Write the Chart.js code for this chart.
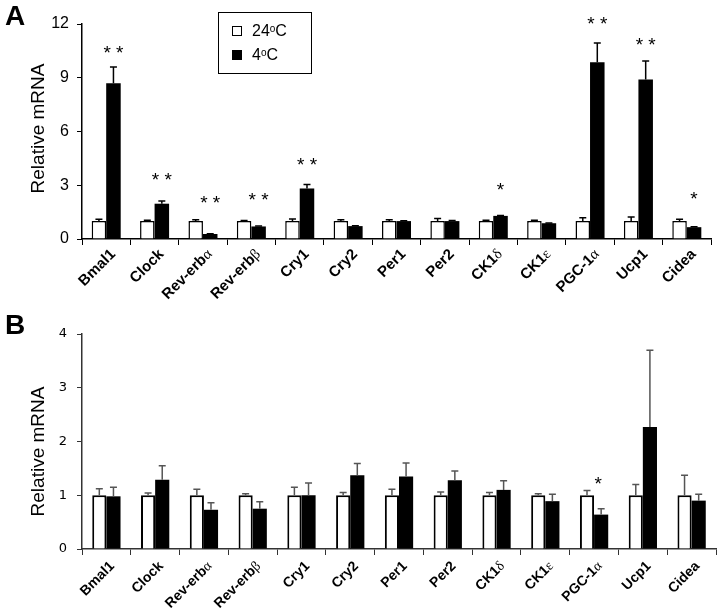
<!DOCTYPE html>
<html>
<head>
<meta charset="utf-8">
<script src="https://cdn.jsdelivr.net/npm/chart.js@4.4.0/dist/chart.umd.min.js"></script>
<style>
  body { margin: 0; background: #fff; width: 721px; height: 614px; position: relative; overflow: hidden; }
  canvas { position: absolute; left: 0; }
  #chartA { top: 0; }
  #chartB { top: 300px; }
</style>
</head>
<body>
<canvas id="chartA" width="721" height="300"></canvas>
<canvas id="chartB" width="721" height="314"></canvas>
<script>
// genes on the x axis (both panels)
const genes = ['Bmal1', 'Clock', 'Rev-erbα', 'Rev-erbβ', 'Cry1', 'Cry2', 'Per1', 'Per2', 'CK1δ', 'CK1ε', 'PGC-1α', 'Ucp1', 'Cidea'];
const seriesNames = ['24°C', '4°C'];
const yTitle = 'Relative mRNA';

// panel A
const warmA = [1, 1, 1, 1, 1, 1, 1, 1, 1, 1, 1, 1, 1];
const coldA = [8.7, 1.97, 0.28, 0.70, 2.82, 0.72, 1.0, 1.0, 1.29, 0.88, 9.87, 8.9, 0.66];
const warmErrA = [0.1, 0.05, 0.08, 0.03, 0.12, 0.08, 0.08, 0.14, 0.05, 0.05, 0.19, 0.23, 0.1];
const coldErrA = [0.9, 0.15, 0.02, 0.02, 0.22, 0.02, 0.02, 0.03, 0.02, 0.02, 1.07, 1.04, 0.03];
const starsA = ['* *', '* *', '* *', '* *', '* *', '', '', '', '*', '', '* *', '* *', '*'];
const starLevelA = [10.36, 3.27, 1.95, 2.12, 4.07, 0, 0, 0, 2.7, 0, 11.93, 10.79, 2.21];
const ticksA = [0, 3, 6, 9, 12];

// panel B
const warmB = [1, 1, 1, 1, 1, 1, 1, 1, 1, 1, 1, 1, 1];
const coldB = [0.98, 1.29, 0.73, 0.75, 1.0, 1.37, 1.35, 1.28, 1.1, 0.89, 0.64, 2.27, 0.9];
const warmErrB = [0.12, 0.04, 0.11, 0.03, 0.15, 0.05, 0.11, 0.06, 0.05, 0.03, 0.09, 0.2, 0.37];
const coldErrB = [0.17, 0.26, 0.13, 0.13, 0.23, 0.22, 0.25, 0.17, 0.17, 0.13, 0.11, 1.43, 0.12];
const starsB = ['', '', '', '', '', '', '', '', '', '', '*', '', ''];
const starLevelB = [0, 0, 0, 0, 0, 0, 0, 0, 0, 0, 1.19, 0, 0];
const ticksB = [0, 1, 2, 3, 4];

const SANS = '"Liberation Sans", Arial, sans-serif';

// error bars (upward only), stars, rotated gene labels, y title, panel letter, legend
const extrasPlugin = {
    id: 'extras',
    afterDatasetsDraw(chart, args, opts) {
        const ctx = chart.ctx;
        const y = chart.scales.y;
        ctx.save();
        chart.data.datasets.forEach((ds, di) => {
            const meta = chart.getDatasetMeta(di);
            meta.data.forEach((bar, i) => {
                const top = y.getPixelForValue(ds.data[i] + ds.errors[i]);
                const half = opts.capHalf;
                ctx.strokeStyle = opts.errColor;
                ctx.lineWidth = opts.errWidth;
                ctx.beginPath();
                ctx.moveTo(bar.x, bar.y);
                ctx.lineTo(bar.x, top);
                ctx.moveTo(bar.x - half, top);
                ctx.lineTo(bar.x + half, top);
                ctx.stroke();
            });
        });
        // stars above the 4°C bars
        const coldMeta = chart.getDatasetMeta(1);
        ctx.fillStyle = '#000';
        ctx.font = opts.starFont;
        ctx.textAlign = 'center';
        ctx.textBaseline = 'middle';
        opts.stars.forEach((s, i) => {
            if (!s) return;
            ctx.fillText(s, coldMeta.data[i].x + opts.starShift, y.getPixelForValue(opts.starLevel[i]));
        });
        ctx.restore();
    },
    afterDraw(chart, args, opts) {
        const ctx = chart.ctx;
        const area = chart.chartArea;
        const x = chart.scales.x;
        ctx.save();
        ctx.fillStyle = '#000';

        // gene labels at 45°, greek letter in a plain serif face
        ctx.textBaseline = 'middle';
        ctx.textAlign = 'left';
        chart.data.labels.forEach((lab, i) => {
            const last = lab.slice(-1);
            const greek = /[α-ω]/.test(last);
            const main = greek ? lab.slice(0, -1) : lab;
            const mainFont = 'bold ' + opts.labelSize + 'px ' + SANS;
            const greekFont = opts.labelSize + 'px "Liberation Serif", "Times New Roman", serif';
            ctx.font = mainFont;
            const wMain = ctx.measureText(main).width;
            ctx.font = greekFont;
            const wGreek = greek ? ctx.measureText(last).width : 0;
            ctx.save();
            ctx.translate(x.getPixelForValue(i) + opts.labelDx, area.bottom + opts.labelDy);
            ctx.rotate(-Math.PI / 4);
            ctx.font = mainFont;
            ctx.fillText(main, -(wMain + wGreek), 0);
            if (greek) {
                ctx.font = greekFont;
                ctx.fillText(last, -wGreek, 0);
            }
            ctx.restore();
        });

        // y axis title
        ctx.save();
        ctx.translate(39, (area.top + area.bottom) / 2 + opts.titleShift);
        ctx.rotate(-Math.PI / 2);
        ctx.font = '19px ' + SANS;
        ctx.textAlign = 'center';
        ctx.fillText(yTitle, 0, 0);
        ctx.restore();

        // panel letter
        ctx.font = 'bold 28px ' + SANS;
        ctx.textAlign = 'left';
        ctx.textBaseline = 'alphabetic';
        ctx.fillText(opts.letter, 5, opts.letterBase);

        if (opts.legend) {
            const lg = opts.legend;
            ctx.strokeStyle = '#000';
            ctx.lineWidth = 1;
            ctx.strokeRect(lg.x + 0.5, lg.y + 0.5, lg.w, lg.h);
            chart.data.datasets.forEach((ds, di) => {
                const ry = lg.y + lg.rowTop + di * lg.rowGap;
                ctx.fillStyle = ds.backgroundColor;
                ctx.fillRect(lg.x + 14, ry, 10, 10);
                ctx.strokeStyle = '#000';
                ctx.lineWidth = 1;
                ctx.strokeRect(lg.x + 14.5, ry + 0.5, 9, 9);
                // label like 24°C drawn with a raised small o
                const parts = ds.label.split('°');
                let tx = lg.x + 34;
                const base = ry + 10;
                ctx.fillStyle = '#000';
                ctx.font = '16px ' + SANS;
                ctx.fillText(parts[0], tx, base);
                tx += ctx.measureText(parts[0]).width;
                ctx.font = '10px ' + SANS;
                ctx.fillText('o', tx, base - 4);
                tx += ctx.measureText('o').width;
                ctx.font = '16px ' + SANS;
                ctx.fillText(parts[1], tx, base);
            });
        }
        ctx.restore();
    }
};

function makeChart(id, warm, cold, warmErr, coldErr, yTicks, cfg) {
    return new Chart(document.getElementById(id), {
        type: 'bar',
        data: {
            labels: genes,
            datasets: [
                { label: seriesNames[0], data: warm, errors: warmErr, backgroundColor: '#fff',
                  borderColor: '#000', borderWidth: cfg.whiteBorder, borderSkipped: 'bottom' },
                { label: seriesNames[1], data: cold, errors: coldErr, backgroundColor: '#000',
                  borderWidth: 0 }
            ]
        },
        options: {
            responsive: false,
            animation: false,
            categoryPercentage: cfg.catPct,
            barPercentage: 1.0,
            layout: { padding: cfg.padding },
            plugins: {
                legend: { display: false },
                tooltip: { enabled: false },
                extras: cfg.extras
            },
            scales: {
                x: {
                    grid: { offset: true, drawOnChartArea: false, drawTicks: true, tickLength: 6, color: cfg.axisColor, lineWidth: 1 },
                    border: { color: cfg.axisColor, width: 1.5 },
                    ticks: { autoSkip: false, maxRotation: 0, color: 'rgba(0,0,0,0)', font: { size: 10 } },
                    afterFit: s => { s.height = cfg.xHeight; }
                },
                y: {
                    min: yTicks[0],
                    max: yTicks[yTicks.length - 1],
                    afterBuildTicks: s => { s.ticks = yTicks.map(v => ({ value: v })); },
                    grid: { drawOnChartArea: false, drawTicks: true, tickLength: 5, color: cfg.axisColor },
                    border: { color: cfg.axisColor, width: 1.5 },
                    ticks: { padding: cfg.yPad, color: '#000', font: cfg.yTickFont },
                    afterFit: s => { s.width = cfg.yWidth; }
                }
            }
        },
        plugins: [extrasPlugin]
    });
}

makeChart('chartA', warmA, coldA, warmErrA, coldErrA, ticksA, {
    whiteBorder: 1.5, catPct: 0.6, padding: { top: 24, right: 10, left: 0, bottom: 0 },
    axisColor: '#000', xHeight: 61, yWidth: 82, yPad: 8,
    yTickFont: { family: SANS, size: 16 },
    extras: {
        errColor: '#000', errWidth: 1.5, capHalf: 3.5,
        stars: starsA, starLevel: starLevelA, starFont: '19px ' + SANS, starShift: 0,
        labelSize: 15, labelDx: 7, labelDy: 13, titleShift: -3,
        letter: 'A', letterBase: 25,
        legend: { x: 218, y: 12, w: 93, h: 61, rowTop: 14, rowGap: 24 }
    }
});

makeChart('chartB', warmB, coldB, warmErrB, coldErrB, ticksB, {
    whiteBorder: 2, catPct: 0.58, padding: { top: 34, right: 5, left: 0, bottom: 0 },
    axisColor: '#333', xHeight: 65, yWidth: 82, yPad: 10,
    yTickFont: { family: '"DejaVu Sans", Verdana, sans-serif', size: 13 },
    extras: {
        errColor: '#555', errWidth: 1.5, capHalf: 3.5,
        stars: starsB, starLevel: starLevelB, starFont: '19px ' + SANS, starShift: -3,
        labelSize: 14, labelDx: 6, labelDy: 15, titleShift: 10,
        letter: 'B', letterBase: 34,
        legend: null
    }
});
</script>
</body>
</html>
